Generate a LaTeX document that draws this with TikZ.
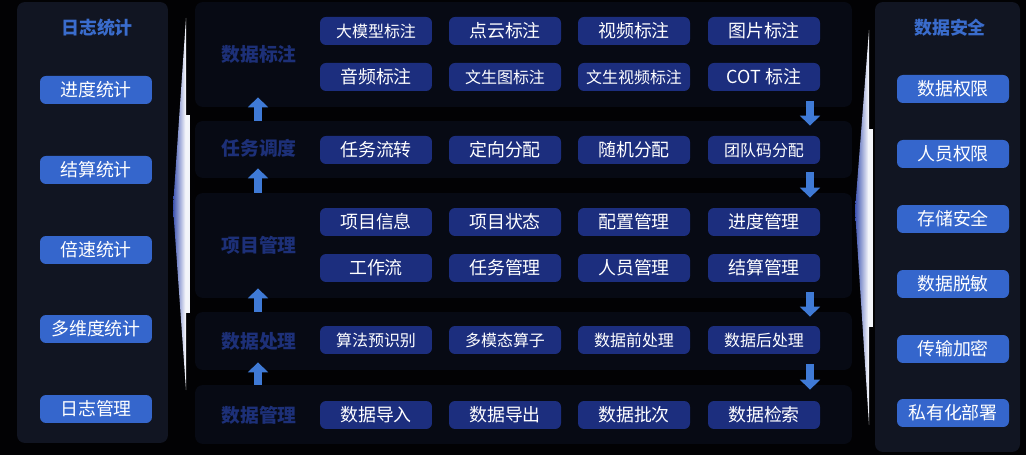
\documentclass[tikz,border=0pt]{standalone}
\usepackage{fontspec}
\setmainfont{Noto Sans CJK SC}
\usepackage{tikz}
\usetikzlibrary{arrows.meta,calc}

\definecolor{pagebg}{HTML}{020204}
\definecolor{panelbg}{HTML}{111522}
\definecolor{bandbg}{HTML}{070A14}
\definecolor{chipblue}{HTML}{1C2E7E}
\definecolor{sideblue}{HTML}{3566CC}
\definecolor{titleblue}{HTML}{3A6CCC}
\definecolor{labelblue}{HTML}{1D3078}
\definecolor{arrowblue}{HTML}{3F7AD6}
\definecolor{beamblue}{HTML}{3C52B0}

\begin{document}
\begin{tikzpicture}[x=0.02cm, y=-0.02cm,
    panel style/.style={fill=panelbg, rounded corners=4.5pt, inner sep=0pt},
    band style/.style={fill=bandbg, rounded corners=4.5pt, inner sep=0pt, minimum width=13.14cm},
    chip style/.style={
        fill=chipblue,
        rounded corners=3.4pt,
        text=white,
        inner sep=0pt,
        minimum width=2.24cm,
        minimum height=0.56cm,
        font=\fontsize{10.2}{12}\selectfont
    },
    long chip style/.style={chip style, font=\fontsize{9.1}{11}\selectfont},
    side chip style/.style={chip style, fill=sideblue},
    title style/.style={text=titleblue, font=\fontsize{10.2}{12}\selectfont\bfseries},
    label style/.style={text=labelblue, font=\fontsize{10.7}{12}\selectfont\bfseries},
    flow arrow/.style={draw=arrowblue, line width=4.5pt,
        -{Triangle[width=11.3pt, length=5.7pt]}}
]
\useasboundingbox (0,0) rectangle (1026,455);
\fill[pagebg] (0,0) rectangle (1026,455);

\node[panel style, minimum width=3.02cm, minimum height=8.82cm] (logpanel) at (92.5,222.5) {};
\node[panel style, minimum width=2.9cm, minimum height=9.0cm] (safepanel) at (947.5,227) {};

\fill[left color=beamblue, right color=white] (186,18) -- (173,207) -- (186,390) -- cycle;
\fill[white!94!beamblue] (186,115) rectangle (190,313);
\fill[left color=beamblue, right color=white] (869,30) -- (855,210) -- (869,425) -- cycle;
\fill[white!94!beamblue] (868,129) rectangle (873,327);

\node[band style, minimum height=2.1cm] (b1) at (523.5,54.5) {};
\node[band style, minimum height=1.14cm] (b2) at (523.5,149.5) {};
\node[band style, minimum height=2.1cm] (b3) at (523.5,245.5) {};
\node[band style, minimum height=1.16cm] (b4) at (523.5,341) {};
\node[band style, minimum height=1.18cm] (b5) at (523.5,414.5) {};

\node[title style] (logtitle) at (97,28) {日志统计};
\node[side chip style] (log1) at (96,90) {进度统计};
\node[side chip style] (log2) at (96,170) {结算统计};
\node[side chip style] (log3) at (96,250) {倍速统计};
\node[side chip style] (log4) at (96,329) {多维度统计};
\node[side chip style] (log5) at (96,409) {日志管理};

\node[title style] (safetitle) at (950,28) {数据安全};
\node[side chip style] (safe1) at (953,89) {数据权限};
\node[side chip style] (safe2) at (953,154) {人员权限};
\node[side chip style] (safe3) at (953,219) {存储安全};
\node[side chip style] (safe4) at (953,284) {数据脱敏};
\node[side chip style] (safe5) at (953,349) {传输加密};
\node[side chip style] (safe6) at (953,413) {私有化部署};

\node[label style] (lab1) at (259,54) {数据标注};
\node[label style] (lab2) at (259,148) {任务调度};
\node[label style] (lab3) at (259,245) {项目管理};
\node[label style] (lab4) at (259,341) {数据处理};
\node[label style] (lab5) at (259,415) {数据管理};

\node[long chip style] (mark1) at (376,31) {大模型标注};
\node[chip style] (mark2) at (505,31) {点云标注};
\node[chip style] (mark3) at (634,31) {视频标注};
\node[chip style] (mark4) at (764,31) {图片标注};
\node[chip style] (mark5) at (376,77) {音频标注};
\node[long chip style] (mark6) at (505,77) {文生图标注};
\node[long chip style] (mark7) at (634,77) {文生视频标注};
\node[chip style] (mark8) at (764,77) {COT 标注};

\node[chip style] (task1) at (376,150) {任务流转};
\node[chip style] (task2) at (505,150) {定向分配};
\node[chip style] (task3) at (634,150) {随机分配};
\node[long chip style] (task4) at (764,150) {团队码分配};

\node[chip style] (proj1) at (376,222) {项目信息};
\node[chip style] (proj2) at (505,222) {项目状态};
\node[chip style] (proj3) at (634,222) {配置管理};
\node[chip style] (proj4) at (764,222) {进度管理};
\node[chip style] (proj5) at (376,268) {工作流};
\node[chip style] (proj6) at (505,268) {任务管理};
\node[chip style] (proj7) at (634,268) {人员管理};
\node[chip style] (proj8) at (764,268) {结算管理};

\node[long chip style] (proc1) at (376,340) {算法预识别};
\node[long chip style] (proc2) at (505,340) {多模态算子};
\node[long chip style] (proc3) at (634,340) {数据前处理};
\node[long chip style] (proc4) at (764,340) {数据后处理};

\node[chip style] (data1) at (376,415) {数据导入};
\node[chip style] (data2) at (505,415) {数据导出};
\node[chip style] (data3) at (634,415) {数据批次};
\node[chip style] (data4) at (764,415) {数据检索};

\coordinate (upx) at (258,0);
\coordinate (downx) at (810,0);

\draw[flow arrow] (b2.north -| upx) -- ($(b1.south -| upx)+(0,-10)$);
\draw[flow arrow] (b3.north -| upx) -- ($(b2.south -| upx)+(0,-10)$);
\draw[flow arrow] (b4.north -| upx) -- ($(b3.south -| upx)+(0,-10)$);
\draw[flow arrow] (b5.north -| upx) -- ($(b4.south -| upx)+(0,-8)$);

\draw[flow arrow] ($(b1.south -| downx)+(0,-6)$) -- ($(b2.north -| downx)+(0,5)$);
\draw[flow arrow] ($(b2.south -| downx)+(0,-6)$) -- ($(b3.north -| downx)+(0,5)$);
\draw[flow arrow] ($(b3.south -| downx)+(0,-6)$) -- ($(b4.north -| downx)+(0,5)$);
\draw[flow arrow] ($(b4.south -| downx)+(0,-6)$) -- ($(b5.north -| downx)+(0,5)$);
\end{tikzpicture}
\end{document}
